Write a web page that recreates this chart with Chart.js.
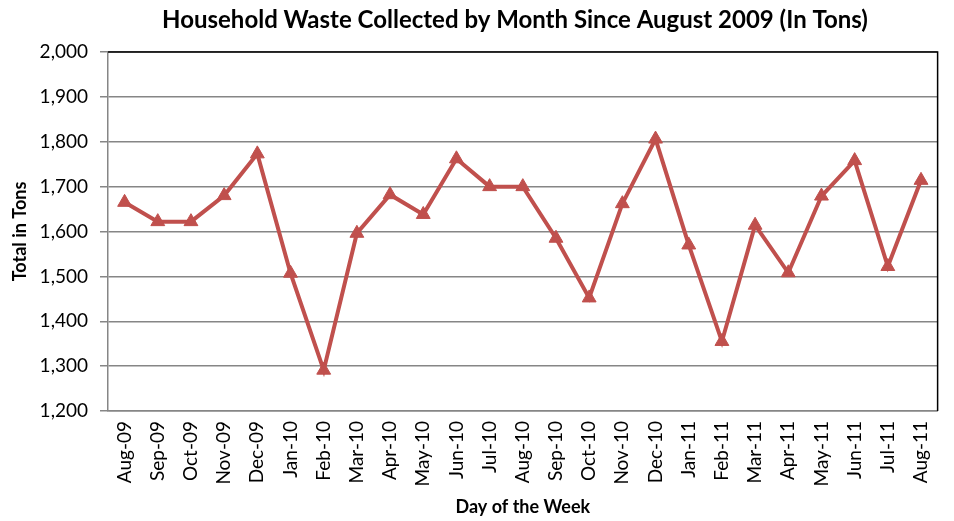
<!DOCTYPE html>
<html>
<head>
<meta charset="utf-8">
<script src="https://cdn.jsdelivr.net/npm/chart.js@4.4.1/dist/chart.umd.min.js"></script>
<style>
html,body{margin:0;padding:0;background:#fff;}
#wrap{width:954px;height:521px;}
</style>
</head>
<body>
<div id="wrap"><canvas id="c" width="954" height="521"></canvas></div>
<script>
const chartTitle = "Household Waste Collected by Month Since August 2009 (In Tons)";
const xAxisTitle = "Day of the Week";
const yAxisTitle = "Total in Tons";
const months = ["Aug-09","Sep-09","Oct-09","Nov-09","Dec-09","Jan-10","Feb-10","Mar-10","Apr-10","May-10","Jun-10","Jul-10","Aug-10","Sep-10","Oct-10","Nov-10","Dec-10","Jan-11","Feb-11","Mar-11","Apr-11","May-11","Jun-11","Jul-11","Aug-11"];
const wasteTons = [1665,1622,1622,1680,1773,1507,1291,1596,1682,1638,1762,1700,1700,1585,1452,1662,1806,1570,1355,1614,1508,1679,1758,1522,1714];
const yMin = 1200, yMax = 2000, yStep = 100;

const FONT = "Lato, 'Open Sans', sans-serif";

const titlePlugin = {
  id: 'customTitle',
  afterDraw(chart) {
    const ctx = chart.ctx;
    ctx.save();
    ctx.font = "bold 24px " + FONT;
    ctx.fillStyle = "#000";
    ctx.textAlign = "center";
    ctx.textBaseline = "alphabetic";
    ctx.fillText(chartTitle, 515, 27.5);
    ctx.restore();
  }
};
const borderPlugin = {
  id: 'plotBorder',
  beforeDatasetsDraw(chart) {
    const a = chart.chartArea, ctx = chart.ctx;
    ctx.save();
    ctx.strokeStyle = "#000";
    ctx.lineWidth = 1.5;
    ctx.beginPath();
    ctx.moveTo(a.left, a.top);
    ctx.lineTo(a.right, a.top);
    ctx.lineTo(a.right, a.bottom);
    ctx.stroke();
    ctx.restore();
  }
};

new Chart(document.getElementById('c'), {
  type: 'line',
  data: {
    labels: months,
    datasets: [{
      data: wasteTons,
      borderColor: '#C0504D',
      backgroundColor: '#C0504D',
      borderWidth: 4,
      pointStyle: 'triangle',
      pointRadius: 8,
      pointHoverRadius: 8,
      pointBorderWidth: 1,
      tension: 0,
      fill: false
    }]
  },
  options: {
    responsive: false,
    animation: false,
    devicePixelRatio: 1,
    layout: { padding: { top: 52, right: 6, left: 0, bottom: 0 } },
    plugins: { legend: { display: false }, tooltip: { enabled: false }, title: { display: false } },
    scales: {
      x: {
        type: 'category',
        offset: true,
        grid: { display: true, drawOnChartArea: false, drawTicks: false, color: '#868686' },
        border: { display: true, color: '#868686', width: 1.5 },
        ticks: { minRotation: 90, maxRotation: 90, autoSkip: false, padding: 10, color: '#000', font: { family: FONT, size: 19 } },
        title: { display: true, text: xAxisTitle, color: '#000', font: { family: FONT, size: 18, weight: 'bold' }, padding: { top: 0, bottom: 3 } },
        afterFit(scale) { scale.height = 110; }
      },
      y: {
        min: yMin, max: yMax,
        grid: { color: '#868686', lineWidth: 1.5, tickLength: 8 },
        border: { display: true, color: '#868686', width: 1.5 },
        ticks: { stepSize: yStep, padding: 12, color: '#000', font: { family: FONT, size: 19 },
          callback: v => v.toLocaleString('en-US') },
        title: { display: true, text: yAxisTitle, color: '#000', font: { family: FONT, size: 18, weight: 'bold' }, padding: { top: 9, bottom: 0 } },
        afterFit(scale) { scale.width = 108; }
      }
    }
  },
  plugins: [titlePlugin, borderPlugin]
});
</script>
</body>
</html>
